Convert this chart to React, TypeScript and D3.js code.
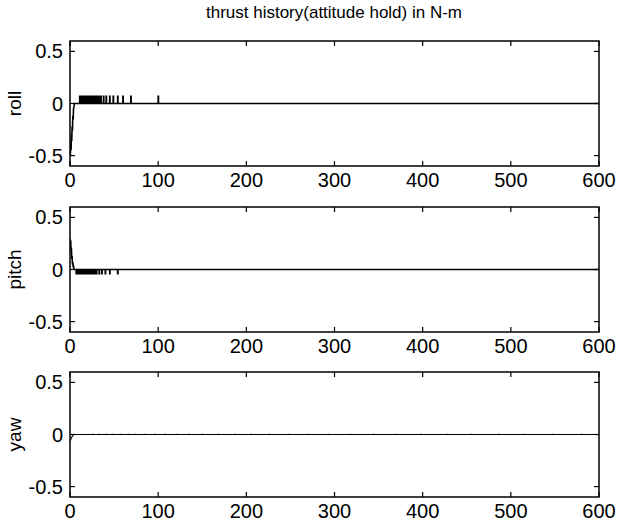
import React from "react";
import * as d3 from "d3";

// Thruster torque histories during attitude hold (N-m) versus time (s)
const title = "thrust history(attitude hold) in N-m";
const xTicks = [0, 100, 200, 300, 400, 500, 600];
const yTicks = [-0.5, 0, 0.5];
const xDomain: [number, number] = [0, 600];
const yDomain: [number, number] = [-0.6, 0.6];

// Initial transients [time, torque]
const rollTransient: [number, number][] = [
  [0, -0.44], [0.4, -0.5], [0.8, -0.38], [1.2, -0.45], [1.6, -0.3], [2.0, -0.36],
  [2.4, -0.22], [2.8, -0.26], [3.2, -0.12], [3.6, -0.15], [4.0, -0.05], [4.5, -0.03], [5, 0],
];
const pitchTransient: [number, number][] = [
  [0, 0.3], [0.4, 0.24], [0.8, 0.28], [1.2, 0.17], [1.6, 0.21], [2.0, 0.1],
  [2.4, 0.13], [2.8, 0.05], [3.2, 0.07], [3.6, 0.02], [4.0, 0.03], [4.5, 0.01], [5, 0],
];
const yawTransient: [number, number][] = [
  [0, -0.06], [0.8, -0.05], [1.6, -0.035], [2.4, -0.02], [3.2, -0.01], [4.2, 0],
];

// Thruster pulse firing times (s) and pulse amplitudes
const rollPulseTimes = [
  11, 12, 13, 14, 15, 16, 17, 18, 19, 20, 21, 22, 23, 24, 25, 27, 29, 31, 33, 35,
  38, 41, 45, 49, 54, 60, 69, 100,
];
const rollPulseHeight = 0.07;
const pitchPulseTimes = [
  7, 8, 9, 10, 11, 12, 13, 14, 15, 16, 17, 18, 19, 20, 21, 22, 23, 24, 26, 28, 30,
  33, 36, 40, 45, 54,
];
const pitchPulseHeight = -0.04;
const yawPulseTimes = [
  26, 33, 41, 48, 57, 66, 74, 85, 96, 108, 121, 135, 150, 168, 187, 205, 226, 248,
  270, 293, 318, 344, 370, 398, 427, 455, 486, 515, 548, 580,
];
const yawPulseHeight = 0.003;

const channels = [
  { name: "roll", transient: rollTransient, pulses: rollPulseTimes, h: rollPulseHeight, w: 1.6 },
  { name: "pitch", transient: pitchTransient, pulses: pitchPulseTimes, h: pitchPulseHeight, w: 1.6 },
  { name: "yaw", transient: yawTransient, pulses: yawPulseTimes, h: yawPulseHeight, w: 1.1 },
];

const panelTops = [41, 207, 372];
const panelH = 125;
const left = 70;
const right = 599;
const font = "'Liberation Sans', Arial, Helvetica, sans-serif";

function buildSeries(transient: [number, number][], pulses: number[], h: number): [number, number][] {
  const pts: [number, number][] = [...transient];
  for (const t of pulses) {
    pts.push([t, 0], [t, h], [t + 0.35, h], [t + 0.35, 0]);
  }
  pts.push([600, 0]);
  return pts;
}

export default function App() {
  const x = d3.scaleLinear().domain(xDomain).range([left, right]);
  const tick = 5;
  return (
    <svg width={629} height={523} style={{ position: "absolute", left: 0, top: 0, background: "#fff" }}>
      <text x={334} y={18} textAnchor="middle" fontFamily={font} fontSize={17}>
        {title}
      </text>
      {channels.map((c, i) => {
        const top = panelTops[i];
        const bottom = top + panelH;
        const y = d3.scaleLinear().domain(yDomain).range([bottom, top]);
        const line = d3
          .line<[number, number]>()
          .x((d) => x(d[0]))
          .y((d) => y(d[1]));
        const series = buildSeries(c.transient, c.pulses, c.h);
        const clipId = `clip-${c.name}`;
        return (
          <g key={c.name}>
            <defs>
              <clipPath id={clipId}>
                <rect x={left} y={top} width={right - left} height={panelH} />
              </clipPath>
            </defs>
            <path
              d={line(series) ?? ""}
              fill="none"
              stroke="#000"
              strokeWidth={c.w}
              clipPath={`url(#${clipId})`}
            />
            <rect x={left} y={top} width={right - left} height={panelH} fill="none" stroke="#000" strokeWidth={1.5} />
            {xTicks.map((t) => (
              <g key={`x${t}`}>
                <line x1={x(t)} x2={x(t)} y1={bottom} y2={bottom - tick} stroke="#000" strokeWidth={1.2} />
                <line x1={x(t)} x2={x(t)} y1={top} y2={top + tick} stroke="#000" strokeWidth={1.2} />
                <text x={x(t)} y={bottom + 21} textAnchor="middle" fontFamily={font} fontSize={20}>
                  {t}
                </text>
              </g>
            ))}
            {yTicks.map((t) => (
              <g key={`y${t}`}>
                <line x1={left} x2={left + tick} y1={y(t)} y2={y(t)} stroke="#000" strokeWidth={1.2} />
                <line x1={right} x2={right - tick} y1={y(t)} y2={y(t)} stroke="#000" strokeWidth={1.2} />
                <text x={63} y={y(t) + 7} textAnchor="end" fontFamily={font} fontSize={20}>
                  {t}
                </text>
              </g>
            ))}
            <text
              transform={`translate(21,${(top + bottom) / 2}) rotate(-90)`}
              textAnchor="middle"
              fontFamily={font}
              fontSize={19}
            >
              {c.name}
            </text>
          </g>
        );
      })}
    </svg>
  );
}
